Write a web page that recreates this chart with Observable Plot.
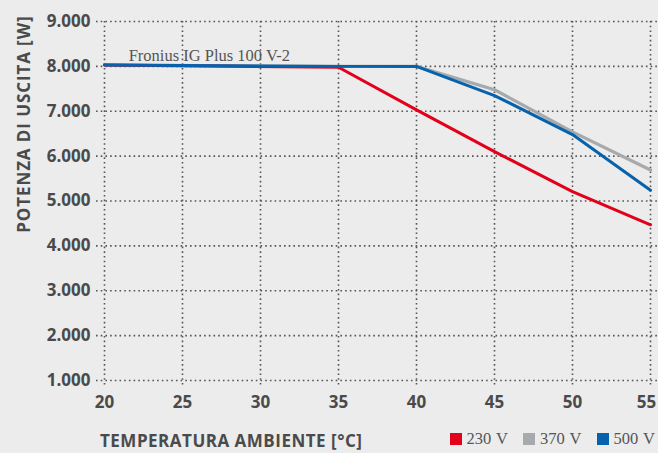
<!DOCTYPE html>
<html>
<head>
<meta charset="utf-8">
<script src="https://cdn.jsdelivr.net/npm/d3@7"></script>
<script src="https://cdn.jsdelivr.net/npm/@observablehq/plot@0.6"></script>
<style>
  html, body { margin: 0; padding: 0; background: #ebeceb; }
  #wrap { position: relative; width: 658px; height: 453px; background: #ebeceb; overflow: hidden; }
  #xtitle { position: absolute; left: 100px; top: 429px; font: 700 17px "Open Sans", sans-serif; color: #4a4a4c; letter-spacing: 0.5px; }
  #legend { position: absolute; right: 3px; top: 429px; display: flex; align-items: center; font: 16.5px "Liberation Serif", serif; color: #555; word-spacing: 1px; }
  #legend span.item { display: flex; align-items: center; margin-left: 15px; }
  #legend span.sw { display: inline-block; width: 12px; height: 12px; margin-right: 5px; }
</style>
</head>
<body>
<div id="wrap"></div>
<script>
const temps = [20, 35, 40, 45, 50, 55];
const v230 = [8030, 7980, 7030, 6100, 5210, 4470];
const v370 = [8030, 8000, 8000, 7480, 6540, 5690];
const v500 = [8030, 8000, 8000, 7350, 6480, 5240];
const seriesNames = ["230 V", "370 V", "500 V"];
const seriesColors = ["#e3001b", "#a6aaad", "#0762ad"];
const xTicks = [20, 25, 30, 35, 40, 45, 50, 55];
const yTicks = [1000, 2000, 3000, 4000, 5000, 6000, 7000, 8000, 9000];
const annotation = [{x: 21.55, y: 8000, text: "Fronius IG Plus 100 V-2"}];
const yTitle = "POTENZA DI USCITA [W]";
const xTitle = "TEMPERATURA AMBIENTE [°C]";

const rows = [];
[v230, v370, v500].forEach((vals, i) => {
  vals.forEach((v, j) => rows.push({series: seriesNames[i], t: temps[j], p: v}));
});
const fmt = d => d3.format(",")(d).replace(/,/g, ".");
const lastX = xTicks[xTicks.length - 1];

const chart = Plot.plot({
  width: 658,
  height: 418,
  marginLeft: 104,
  marginRight: 8,
  marginTop: 21,
  marginBottom: 38,
  style: {background: "transparent", fontFamily: "'Open Sans', sans-serif"},
  x: {domain: [20, 55], label: null},
  y: {domain: [1000, 9000], label: null},
  color: {domain: seriesNames, range: seriesColors},
  marks: [
    Plot.ruleY(yTicks, {stroke: "#555", strokeWidth: 1.6, strokeDasharray: "1.6,3.1", insetLeft: -8, insetRight: -8}),
    Plot.ruleX(xTicks, {stroke: "#555", strokeWidth: 1.6, strokeDasharray: "1.6,3.1", insetBottom: -7}),
    Plot.axisY(yTicks, {tickSize: 0, tickPadding: 14, tickFormat: fmt, fontSize: 17, fontWeight: 700, fill: "#4a4a4c"}),
    Plot.axisX(xTicks.slice(0, -1), {tickSize: 0, tickPadding: 15, fontSize: 17, fontWeight: 700, fill: "#4a4a4c"}),
    Plot.axisX([lastX], {tickSize: 0, tickPadding: 15, fontSize: 17, fontWeight: 700, fill: "#4a4a4c", dx: -4}),
    Plot.line(rows.filter(d => d.series === "370 V"), {x: "t", y: "p", stroke: "series", strokeWidth: 3.2}),
    Plot.line(rows.filter(d => d.series === "230 V"), {x: "t", y: "p", stroke: "series", strokeWidth: 3}),
    Plot.line(rows.filter(d => d.series === "500 V"), {x: "t", y: "p", stroke: "series", strokeWidth: 3}),
    Plot.text(annotation, {x: "x", y: "y", text: "text", textAnchor: "start", dy: -11, fontSize: 16.5, fontFamily: "'Liberation Serif', serif", fill: "#555"}),
    Plot.text([yTitle], {frameAnchor: "top-left", text: d => d, rotate: -90, textAnchor: "end", dx: -87, dy: -6, fontSize: 17, fontWeight: 700, fill: "#4a4a4c"})
  ]
});

chart.querySelectorAll("text").forEach(t => {
  if (t.textContent === yTitle) t.setAttribute("letter-spacing", "0.9");
});

const wrap = document.getElementById("wrap");
wrap.appendChild(chart);
const xt = document.createElement("div");
xt.id = "xtitle";
xt.textContent = xTitle;
wrap.appendChild(xt);
const lg = document.createElement("div");
lg.id = "legend";
seriesNames.forEach((n, i) => {
  const it = document.createElement("span");
  it.className = "item";
  const sw = document.createElement("span");
  sw.className = "sw";
  sw.style.background = seriesColors[i];
  it.appendChild(sw);
  it.appendChild(document.createTextNode(n));
  lg.appendChild(it);
});
wrap.appendChild(lg);
</script>
</body>
</html>
